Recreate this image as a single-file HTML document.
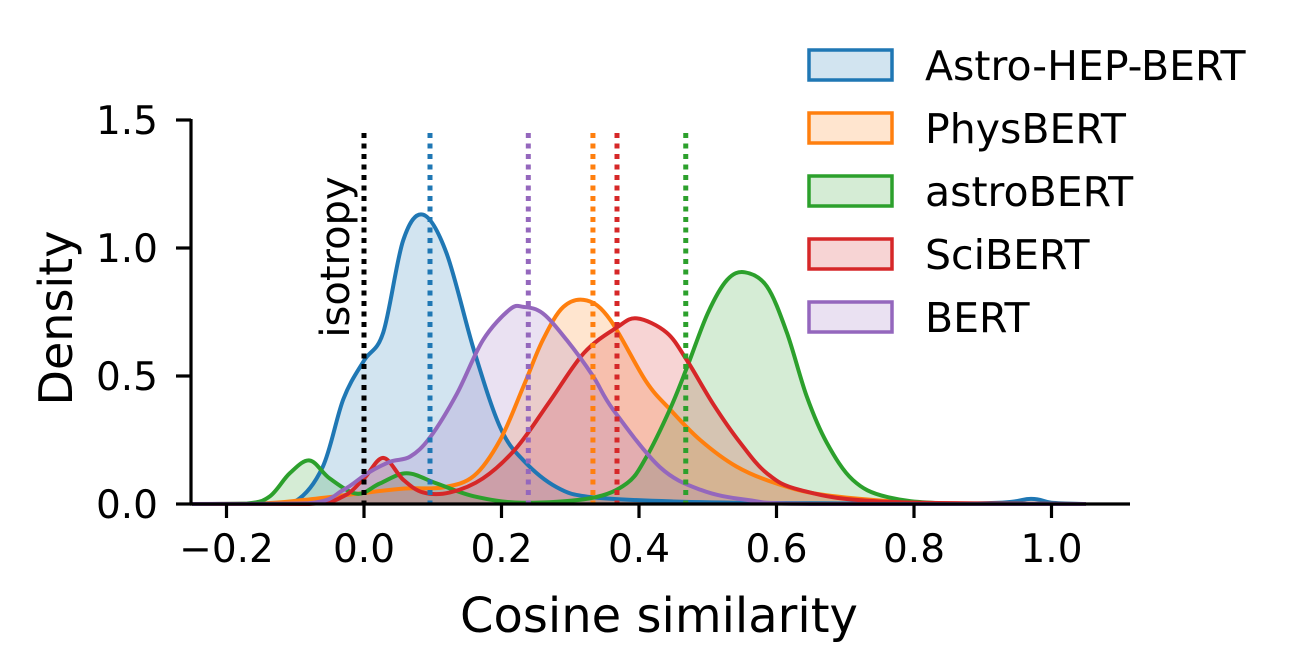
<!DOCTYPE html>
<html><head><meta charset="utf-8"><style>
html,body{margin:0;padding:0;background:#fff;}
svg{display:block;font-family:"DejaVu Sans","Liberation Sans",sans-serif;}
</style></head><body>
<svg id="chart" width="1297" height="670" viewBox="0 0 1297 670" xmlns="http://www.w3.org/2000/svg">
<g id="fills"></g>
<g id="lines"></g>
<g id="medians"></g>
<g id="axes"></g>
<text transform="translate(349,257) rotate(-90)" text-anchor="middle" style="font-size:40px">isotropy</text>
<text transform="translate(72,318) rotate(-90)" text-anchor="middle" style="font-size:46px">Density</text>
<text x="659" y="632" text-anchor="middle" style="font-size:48px">Cosine similarity</text>
<g id="legend"></g>
</svg>
<script>
const seriesNames = ["Astro-HEP-BERT","PhysBERT","astroBERT","SciBERT","BERT"];
const seriesColors = ["#1f77b4","#ff7f0e","#2ca02c","#d62728","#9467bd"];
const astroHepX = [-0.25,-0.15,-0.1,-0.06,-0.03,0,0.028,0.057,0.086,0.12,0.16,0.198,0.232,0.28,0.33,0.45,0.6,0.9,0.97,1.0,1.05];
const astroHepY = [0,0,0.01,0.145,0.41,0.56,0.67,1.03,1.13,0.98,0.6,0.30,0.17,0.066,0.027,0.01,0.004,0.003,0.02,0.005,0];
const physX = [-0.25,-0.15,-0.09,-0.01,0.057,0.115,0.16,0.198,0.232,0.26,0.29,0.324,0.358,0.41,0.445,0.489,0.542,0.6,0.67,0.8,0.9,1.05];
const physY = [0,0.002,0.015,0.04,0.06,0.065,0.11,0.25,0.46,0.64,0.77,0.795,0.72,0.48,0.37,0.25,0.146,0.08,0.035,0.005,0,0];
const astroX = [-0.25,-0.17,-0.137,-0.108,-0.079,-0.05,-0.01,0.023,0.062,0.106,0.16,0.23,0.33,0.382,0.41,0.445,0.47,0.5,0.528,0.554,0.586,0.615,0.644,0.673,0.711,0.76,0.85,1.05];
const astroY = [0,0.002,0.03,0.12,0.17,0.1,0.04,0.08,0.12,0.08,0.03,0.005,0.023,0.08,0.18,0.37,0.535,0.745,0.875,0.905,0.85,0.67,0.42,0.24,0.094,0.028,0.002,0];
const sciX = [-0.25,-0.08,-0.03,0,0.028,0.057,0.086,0.125,0.173,0.222,0.27,0.32,0.368,0.397,0.44,0.47,0.508,0.547,0.586,0.634,0.75,1.05];
const sciY = [0,0,0.03,0.1,0.18,0.095,0.045,0.045,0.1,0.22,0.4,0.59,0.69,0.725,0.67,0.56,0.39,0.24,0.12,0.055,0.01,0];
const bertX = [-0.25,-0.08,-0.03,0.005,0.038,0.067,0.096,0.135,0.173,0.212,0.232,0.26,0.295,0.333,0.362,0.43,0.49,0.557,0.65,1.05];
const bertY = [0,0.003,0.055,0.12,0.165,0.185,0.26,0.43,0.64,0.76,0.77,0.745,0.64,0.5,0.37,0.145,0.055,0.016,0,0];
const seriesX = [astroHepX,physX,astroX,sciX,bertX];
const seriesY = [astroHepY,physY,astroY,sciY,bertY];
const medianValues = [0.096,0.333,0.468,0.368,0.239];
const xTicks = [-0.2,0.0,0.2,0.4,0.6,0.8,1.0];
const xTickLabels = ["\u22120.2","0.0","0.2","0.4","0.6","0.8","1.0"];
const yTicks = [0,0.5,1.0,1.5];
const yTickLabels = ["0.0","0.5","1.0","1.5"];

const NS="http://www.w3.org/2000/svg";
const X0=364, XS=687.5, Y0=504, YS=256;
function sx(v){return X0+v*XS;}
function sy(v){return Y0-v*YS;}
function mk(tag,attrs,parent){const e=document.createElementNS(NS,tag);for(const k in attrs)e.setAttribute(k,attrs[k]);parent.appendChild(e);return e;}
function pathFor(xs,ys){
  const p=xs.map((x,i)=>[sx(x),sy(ys[i])]);
  let d="M"+p[0][0]+","+p[0][1];
  for(let i=0;i<p.length-1;i++){
    const a=p[Math.max(i-1,0)],b=p[i],c=p[i+1],e=p[Math.min(i+2,p.length-1)];
    const c1=[b[0]+(c[0]-a[0])/6,b[1]+(c[1]-a[1])/6];
    const c2=[c[0]-(e[0]-b[0])/6,c[1]-(e[1]-b[1])/6];
    c1[1]=Math.min(c1[1],Y0);c2[1]=Math.min(c2[1],Y0);
    d+=" C"+c1[0]+","+c1[1]+" "+c2[0]+","+c2[1]+" "+c[0]+","+c[1];
  }
  return d;
}
const fills=document.getElementById('fills'),lines=document.getElementById('lines'),meds=document.getElementById('medians'),axes=document.getElementById('axes'),leg=document.getElementById('legend');
seriesNames.forEach((n,i)=>{
  const d=pathFor(seriesX[i],seriesY[i]);
  const xs=seriesX[i];
  const f=mk('path',{d:d+" L"+sx(xs[xs.length-1])+","+Y0+" L"+sx(xs[0])+","+Y0+" Z",fill:seriesColors[i],'fill-opacity':0.2,stroke:'none'},fills);
  
  
  const l=mk('path',{d:d,fill:'none',stroke:seriesColors[i],'stroke-width':4},lines);
  
  
});
const iso=mk('line',{x1:sx(0),x2:sx(0),y1:133,y2:Y0,stroke:'#000','stroke-width':5,'stroke-dasharray':'5 5.5'},meds);


medianValues.forEach((m,i)=>{
  const l=mk('line',{x1:sx(m),x2:sx(m),y1:133,y2:Y0,stroke:seriesColors[i],'stroke-width':5,'stroke-dasharray':'5 5.5'},meds);
  
  
});
const ly=mk('line',{x1:191,x2:191,y1:119,y2:505,stroke:'#000','stroke-width':3.2},axes);


const lx=mk('line',{x1:190,x2:1130,y1:504,y2:504,stroke:'#000','stroke-width':3.2},axes);


xTicks.forEach((t,i)=>{
  const tk=mk('line',{x1:sx(t),x2:sx(t),y1:504,y2:518,stroke:'#000','stroke-width':3.2},axes);
  
  
  const tx=mk('text',{x:sx(t),y:562,'text-anchor':'middle',style:'font-size:39px'},axes);
  
  
  tx.textContent=xTickLabels[i];
});
yTicks.forEach((t,i)=>{
  const tk=mk('line',{x1:176,x2:191,y1:sy(t),y2:sy(t),stroke:'#000','stroke-width':3.2},axes);
  
  
  const tx=mk('text',{x:158,y:sy(t)+14,'text-anchor':'end',style:'font-size:39px'},axes);
  
  
  tx.textContent=yTickLabels[i];
});
seriesNames.forEach((n,i)=>{
  const y=65+i*63;
  const r=mk('rect',{x:809,y:y-15,width:83,height:30,fill:seriesColors[i],'fill-opacity':0.2,stroke:seriesColors[i],'stroke-width':3.5},leg);
  
  
  const t=mk('text',{x:925,y:y+15,style:'font-size:41px'},leg);
  
  
  t.textContent=n;
});
</script>
</body></html>
